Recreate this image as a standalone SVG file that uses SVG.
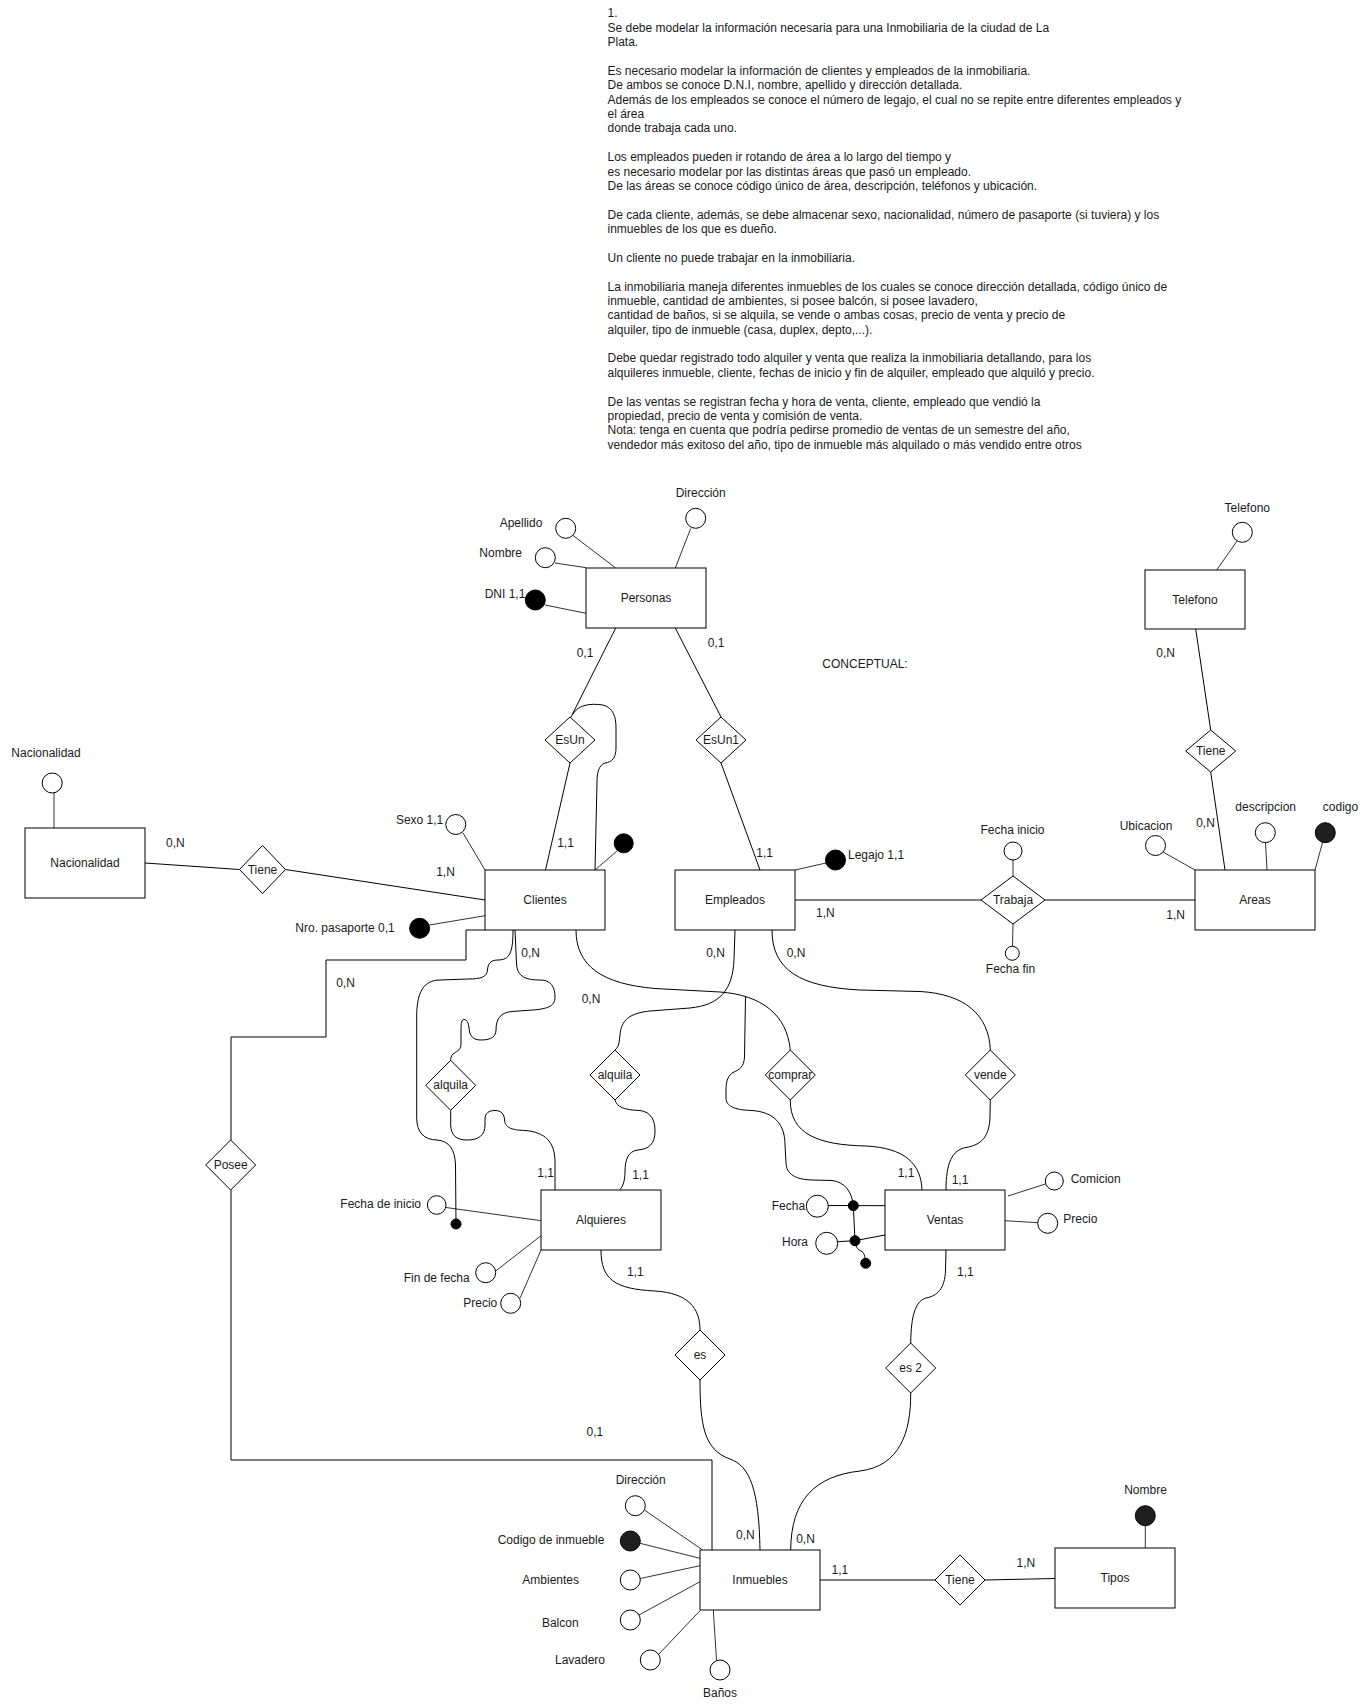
<svg xmlns="http://www.w3.org/2000/svg" width="1370" height="1708" viewBox="0 0 1370 1708">
<style>
text{font-family:"Liberation Sans",Arial,Helvetica,sans-serif;font-size:12px;fill:#1a1a1a}
.m{text-anchor:middle}
.e{fill:#fff;stroke:#000;stroke-width:1}
.r{fill:#fff;stroke:#000;stroke-width:1}
.a{fill:#fff;stroke:#000;stroke-width:1}
.k{fill:#000;stroke:#000;stroke-width:1}
.kd{fill:#1f1f1f;stroke:#000;stroke-width:1}
.c{fill:none;stroke:#000;stroke-width:1}
.l{fill:none;stroke:#333;stroke-width:1}
</style>
<rect width="1370" height="1708" fill="#fff"/>
<g id="descripcion-texto">
<text x="607.5" y="17.3">1.</text>
<text x="607.5" y="31.7">Se debe modelar la información necesaria para una Inmobiliaria de la ciudad de La</text>
<text x="607.5" y="46.1">Plata.</text>
<text x="607.5" y="74.8">Es necesario modelar la información de clientes y empleados de la inmobiliaria.</text>
<text x="607.5" y="89.2">De ambos se conoce D.N.I, nombre, apellido y dirección detallada.</text>
<text x="607.5" y="103.6">Además de los empleados se conoce el número de legajo, el cual no se repite entre diferentes empleados y</text>
<text x="607.5" y="118">el área</text>
<text x="607.5" y="132.3">donde trabaja cada uno.</text>
<text x="607.5" y="161.1">Los empleados pueden ir rotando de área a lo largo del tiempo y</text>
<text x="607.5" y="175.5">es necesario modelar por las distintas áreas que pasó un empleado.</text>
<text x="607.5" y="189.9">De las áreas se conoce código único de área, descripción, teléfonos y ubicación.</text>
<text x="607.5" y="218.6">De cada cliente, además, se debe almacenar sexo, nacionalidad, número de pasaporte (si tuviera) y los</text>
<text x="607.5" y="233">inmuebles de los que es dueño.</text>
<text x="607.5" y="261.8">Un cliente no puede trabajar en la inmobiliaria.</text>
<text x="607.5" y="290.5">La inmobiliaria maneja diferentes inmuebles de los cuales se conoce dirección detallada, código único de</text>
<text x="607.5" y="304.9">inmueble, cantidad de ambientes, si posee balcón, si posee lavadero,</text>
<text x="607.5" y="319.3">cantidad de baños, si se alquila, se vende o ambas cosas, precio de venta y precio de</text>
<text x="607.5" y="333.7">alquiler, tipo de inmueble (casa, duplex, depto,...).</text>
<text x="607.5" y="362.4">Debe quedar registrado todo alquiler y venta que realiza la inmobiliaria detallando, para los</text>
<text x="607.5" y="376.8">alquileres inmueble, cliente, fechas de inicio y fin de alquiler, empleado que alquiló y precio.</text>
<text x="607.5" y="405.6">De las ventas se registran fecha y hora de venta, cliente, empleado que vendió la</text>
<text x="607.5" y="419.9">propiedad, precio de venta y comisión de venta.</text>
<text x="607.5" y="434.3">Nota: tenga en cuenta que podría pedirse promedio de ventas de un semestre del año,</text>
<text x="607.5" y="448.7">vendedor más exitoso del año, tipo de inmueble más alquilado o más vendido entre otros</text>
<text x="865" y="668" class="m">CONCEPTUAL:</text>
</g>
<g id="connectors">
<!-- attribute lines -->
<path class="l" d="M690.7 528.5 L675.3 568"/>
<path class="l" d="M573 535.5 L615.7 568"/>
<path class="l" d="M555 563 L586 567.7"/>
<path class="l" d="M545 605 L586 613.3"/>
<path class="l" d="M54 793 L54 828"/>
<path class="l" d="M463 833 L485 870"/>
<path class="l" d="M617 851 L595 870"/>
<path class="l" d="M429.5 925 L485 915.7"/>
<path class="l" d="M826 863 L795 870"/>
<path class="l" d="M1013 860 L1013 876"/>
<path class="l" d="M1013 924 L1012.5 946"/>
<path class="l" d="M1163 852 L1195 870"/>
<path class="l" d="M1265.5 842.7 L1267 870"/>
<path class="l" d="M1322.5 842.5 L1315 870"/>
<path class="l" d="M1237 541 L1216.7 570"/>
<path class="l" d="M446 1207.5 L541 1220.7"/>
<path class="l" d="M495.7 1271 L541 1235.7"/>
<path class="l" d="M520 1298.3 L541 1250"/>
<path class="l" d="M1045.5 1184 L1008 1196"/>
<path class="l" d="M1037.7 1222.7 L1005 1220.7"/>
<path class="l" d="M644.3 1510 L701.7 1549.3"/>
<path class="l" d="M640 1543.3 L700 1558.3"/>
<path class="l" d="M640.3 1578.5 L700 1565.7"/>
<path class="l" d="M639 1615 L700 1581.7"/>
<path class="l" d="M658.5 1654.5 L700 1610.7"/>
<path class="l" d="M716.5 1660 L713.3 1610"/>
<path class="l" d="M1145.3 1525.7 L1145.3 1548"/>
<!-- relationship lines -->
<path class="c" d="M615.7 628 L571 717"/>
<path class="c" d="M570 763 L545.5 870"/>
<path class="c" d="M573 714 C578 705 590 703 603 705 C613 708 616 716 616 728 L616 748 C616 758 612 762 605 763 C599 765 597 772 597 782 L595 870"/>
<path class="c" d="M675.3 628 L721 717"/>
<path class="c" d="M721 763 L760 870"/>
<path class="c" d="M145 863 L239.5 869.5"/>
<path class="c" d="M285.5 869.5 L485 900"/>
<path class="c" d="M795 900 L981 900"/>
<path class="c" d="M1045 900 L1195 900"/>
<path class="c" d="M1195.7 629 L1210.7 730"/>
<path class="c" d="M1210.7 772 L1225 870"/>
<path class="c" d="M485 930 L466 930 L466 960 L326 960 L326 1037 L231 1037 L231 1140"/>
<path class="c" d="M231 1190 L231 1460 L712 1460 L712 1550"/>
<path class="c" d="M513 930 C513 952 510 960 498 960 C490 960 488 964 487.5 970 C487 977 481 979 468 979 L440 980 C424 980 417 992 416.7 1015 L416.7 1118 C416.7 1132 424 1140 437 1140 C449 1141 455 1149 455.5 1165 L456 1224"/>
<path class="c" d="M515 930 L516.5 963 C517 975 523 980 540 980 C551 980 555 987 555 997 C555 1007 547 1009.5 525 1010.5 L512 1011.5 C501 1012.5 496 1018 496 1030 C496 1036 492 1040 481 1040 C473 1040 469.5 1036 469 1028 C468.5 1022 466.5 1019.5 464 1019.5 C461.5 1019.5 461 1023 461 1030 L461 1044 C461 1051 455 1052 453 1054 C451 1056 450.7 1058 450.7 1060.3"/>
<path class="c" d="M450.7 1110.3 L450.7 1125 C451 1135 456 1140 467 1140 C479 1140 485 1135 485 1125 L485 1119 C485 1113 489 1110.5 495 1110.5 C501 1110.5 504.5 1114 504.5 1120 C505 1127 510 1130 525 1130.5 C545 1132 555 1142 555 1162 L555 1190"/>
<path class="c" d="M735 930 L734 960 C732.5 990 720 1005 690 1008 L650 1011 C630 1013 621 1020 620 1035 L619 1043 C618.5 1046 617 1048 615 1050"/>
<path class="c" d="M615 1100 C617 1107 624 1110 640 1110.5 C651 1112 655 1120 655 1131 C655 1144 649 1149 638 1150 C628 1151 625 1160 625 1172 C625 1182 622 1188 619.5 1190"/>
<path class="c" d="M576 930 C576 966 602 984 655 988.5 L720 992 C762 995 787 1015 790.3 1050"/>
<path class="c" d="M772 930 C772 970 800 987 860 990 L920 991.5 C965 994 989 1015 990.3 1050"/>
<path class="c" d="M745.5 997 L744.5 1057 C744 1067 739 1070 734 1072 C728 1075 726 1081 726 1090 L726 1098 C726 1106 734 1110 752 1110.5 C774 1112 785 1124 785 1145 L786 1163 C786.5 1174 795 1179.5 812 1180 L832 1180.5 C845 1182 852 1192 853.3 1205.7"/>
<path class="c" d="M790.3 1100 C790 1134 818 1145 866 1146 C904 1148 921 1163 922 1190"/>
<path class="c" d="M990.3 1100 L990 1115 C990 1137 981 1145 966 1147.5 C952 1150 946 1163 946 1190"/>
<path class="c" d="M828 1205.5 L885 1205.7"/>
<path class="c" d="M853.3 1205.7 L855 1240.7"/>
<path class="c" d="M837.7 1241.7 L855 1240.7 L885 1235"/>
<path class="c" d="M855 1240.7 C856 1248 858 1250 861 1251 C864 1252 865 1256 865.7 1263"/>
<path class="c" d="M601 1250 C601 1279 614 1289 655 1291 C688 1293 700 1308 700 1330"/>
<path class="c" d="M700 1380 C700 1425 704 1450 730 1459 C750 1466 759 1490 760 1550"/>
<path class="c" d="M946 1250 L945.5 1270 C945 1289 937 1296 926 1298 C916 1301 911 1314 910.7 1343"/>
<path class="c" d="M910.7 1393 C911 1432 900 1466 860 1471 C815 1476 791 1500 790.7 1550"/>
<path class="c" d="M820 1580 L935 1580"/>
<path class="c" d="M985 1580 L1055 1578.5"/>
</g>
<g id="cardinalidades">
<text x="585" y="657" class="m">0,1</text>
<text x="716" y="647" class="m">0,1</text>
<text x="565.5" y="846.5" class="m">1,1</text>
<text x="445.5" y="876" class="m">1,N</text>
<text x="175.4" y="846.5" class="m">0,N</text>
<text x="764.7" y="856.5" class="m">1,1</text>
<text x="825.4" y="917" class="m">1,N</text>
<text x="1175.7" y="919" class="m">1,N</text>
<text x="1165.7" y="656.7" class="m">0,N</text>
<text x="1205.5" y="826.5" class="m">0,N</text>
<text x="530.7" y="956.5" class="m">0,N</text>
<text x="591" y="1003.3" class="m">0,N</text>
<text x="715.5" y="956.5" class="m">0,N</text>
<text x="796" y="956.5" class="m">0,N</text>
<text x="345.5" y="986.5" class="m">0,N</text>
<text x="545.7" y="1176.8" class="m">1,1</text>
<text x="640.5" y="1178.5" class="m">1,1</text>
<text x="906" y="1177" class="m">1,1</text>
<text x="960" y="1184" class="m">1,1</text>
<text x="635.3" y="1276.2" class="m">1,1</text>
<text x="965.3" y="1276.4" class="m">1,1</text>
<text x="594.8" y="1436.4" class="m">0,1</text>
<text x="745.4" y="1538.7" class="m">0,N</text>
<text x="805.5" y="1543" class="m">0,N</text>
<text x="839.8" y="1573.6" class="m">1,1</text>
<text x="1025.8" y="1566.7" class="m">1,N</text>
</g>
<g id="personas"><rect class="e" x="586" y="568" width="120" height="60"/><text x="646" y="602" class="m">Personas</text></g>
<g id="nacionalidad"><rect class="e" x="25" y="828" width="120" height="70"/><text x="85" y="867" class="m">Nacionalidad</text></g>
<g id="clientes"><rect class="e" x="485" y="870" width="120" height="60"/><text x="545" y="904" class="m">Clientes</text></g>
<g id="empleados"><rect class="e" x="675" y="870" width="120" height="60"/><text x="735" y="904" class="m">Empleados</text></g>
<g id="areas"><rect class="e" x="1195" y="870" width="120" height="60"/><text x="1255" y="904" class="m">Areas</text></g>
<g id="telefono"><rect class="e" x="1145" y="570" width="100" height="59"/><text x="1195" y="603.5" class="m">Telefono</text></g>
<g id="alquieres"><rect class="e" x="541" y="1190" width="120" height="60"/><text x="601" y="1224" class="m">Alquieres</text></g>
<g id="ventas"><rect class="e" x="885" y="1190" width="120" height="60"/><text x="945" y="1224" class="m">Ventas</text></g>
<g id="inmuebles"><rect class="e" x="700" y="1550" width="120" height="60"/><text x="760" y="1584" class="m">Inmuebles</text></g>
<g id="tipos"><rect class="e" x="1055" y="1548" width="120" height="60"/><text x="1115" y="1582" class="m">Tipos</text></g>
<g id="rel-esun"><polygon class="r" points="570,717 595,740 570,763 545,740"/><text x="570" y="744" class="m">EsUn</text></g>
<g id="rel-esun1"><polygon class="r" points="721,717 746,740 721,763 696,740"/><text x="721" y="744" class="m">EsUn1</text></g>
<g id="rel-tiene-nac"><polygon class="r" points="262.5,845.5 285.5,869.5 262.5,893.5 239.5,869.5"/><text x="262.5" y="873.5" class="m">Tiene</text></g>
<g id="rel-trabaja"><polygon class="r" points="1013,876 1045,900 1013,924 981,900"/><text x="1013" y="904" class="m">Trabaja</text></g>
<g id="rel-tiene-tel"><polygon class="r" points="1210.7,730 1235.7,751 1210.7,772 1185.7,751"/><text x="1210.7" y="755" class="m">Tiene</text></g>
<g id="rel-alquila-cli"><polygon class="r" points="450.7,1060.3 475.7,1085.3 450.7,1110.3 425.7,1085.3"/><text x="450.7" y="1089.3" class="m">alquila</text></g>
<g id="rel-alquila-emp"><polygon class="r" points="615,1050 640,1075 615,1100 590,1075"/><text x="615" y="1079" class="m">alquila</text></g>
<g id="rel-comprar"><polygon class="r" points="790.3,1050 815.3,1075 790.3,1100 765.3,1075"/><text x="790.3" y="1079" class="m">comprar</text></g>
<g id="rel-vende"><polygon class="r" points="990.3,1050 1015.3,1075 990.3,1100 965.3,1075"/><text x="990.3" y="1079" class="m">vende</text></g>
<g id="rel-posee"><polygon class="r" points="230.7,1140 255.7,1165 230.7,1190 205.7,1165"/><text x="230.7" y="1169" class="m">Posee</text></g>
<g id="rel-es"><polygon class="r" points="700,1330 725,1355 700,1380 675,1355"/><text x="700" y="1359" class="m">es</text></g>
<g id="rel-es2"><polygon class="r" points="910.7,1343 935.7,1368 910.7,1393 885.7,1368"/><text x="910.7" y="1372" class="m">es 2</text></g>
<g id="rel-tiene-tipo"><polygon class="r" points="960,1555 985,1580 960,1605 935,1580"/><text x="960" y="1584" class="m">Tiene</text></g>
<g id="attr-personas">
<circle class="a" cx="695.7" cy="518.3" r="10"/><text x="700.7" y="497.3" class="m">Dirección</text>
<circle class="a" cx="565.7" cy="528.3" r="10"/><text x="521" y="527.3" class="m">Apellido</text>
<circle class="a" cx="545.3" cy="557.7" r="10"/><text x="500.7" y="557.3" class="m">Nombre</text>
<circle class="k" cx="535.3" cy="600" r="10"/><text x="505" y="598" class="m">DNI 1,1</text>
</g>
<g id="attr-nacionalidad"><circle class="a" cx="52.2" cy="783" r="10"/><text x="46" y="756.5" class="m">Nacionalidad</text></g>
<g id="attr-clientes">
<circle class="a" cx="455.8" cy="824.5" r="10"/><text x="419.6" y="824" class="m">Sexo 1,1</text>
<circle class="k" cx="623.7" cy="843.3" r="9.5"/>
<circle class="k" cx="419.6" cy="928.3" r="10"/><text x="345" y="932.3" class="m">Nro. pasaporte 0,1</text>
</g>
<g id="attr-empleados"><circle class="k" cx="835.5" cy="860" r="10"/><text x="848" y="858.5">Legajo 1,1</text></g>
<g id="attr-trabaja">
<circle class="a" cx="1013" cy="851" r="9"/><text x="1012.5" y="834" class="m">Fecha inicio</text>
<circle class="a" cx="1012.3" cy="953.3" r="7"/><text x="1010.5" y="973.3" class="m">Fecha fin</text>
</g>
<g id="attr-areas">
<circle class="a" cx="1155.5" cy="845.5" r="10"/><text x="1146" y="830" class="m">Ubicacion</text>
<circle class="a" cx="1265.3" cy="832.7" r="10"/><text x="1265.7" y="810.7" class="m">descripcion</text>
<circle class="kd" cx="1325.3" cy="832.7" r="10"/><text x="1340.5" y="810.7" class="m">codigo</text>
</g>
<g id="attr-telefono"><circle class="a" cx="1242.3" cy="532.3" r="10"/><text x="1247.3" y="511.7" class="m">Telefono</text></g>
<g id="attr-alquieres">
<circle class="a" cx="436.7" cy="1205" r="9.3"/><text x="380.7" y="1208.3" class="m">Fecha de inicio</text>
<circle class="k" cx="456" cy="1224" r="5"/>
<circle class="a" cx="485.7" cy="1272.7" r="10"/><text x="436.7" y="1281.6" class="m">Fin de fecha</text>
<circle class="a" cx="510.7" cy="1303.3" r="10"/><text x="480.3" y="1306.5" class="m">Precio</text>
</g>
<g id="attr-ventas">
<circle class="a" cx="817.3" cy="1206.2" r="11"/><text x="788.4" y="1210" class="m">Fecha</text>
<circle class="a" cx="826.7" cy="1243.3" r="11"/><text x="795" y="1246" class="m">Hora</text>
<circle class="k" cx="853.3" cy="1205.7" r="5"/>
<circle class="k" cx="855" cy="1240.7" r="5"/>
<circle class="k" cx="865.7" cy="1263.3" r="5"/>
<circle class="a" cx="1054.3" cy="1181" r="9"/><text x="1070.7" y="1183">Comicion</text>
<circle class="a" cx="1047.7" cy="1223.3" r="10"/><text x="1063.3" y="1223">Precio</text>
</g>
<g id="attr-inmuebles">
<circle class="a" cx="635.3" cy="1505.7" r="10"/><text x="640.7" y="1484" class="m">Dirección</text>
<circle class="kd" cx="630.3" cy="1541" r="10"/><text x="551" y="1544" class="m">Codigo de inmueble</text>
<circle class="a" cx="630.3" cy="1580" r="10"/><text x="550.7" y="1584" class="m">Ambientes</text>
<circle class="a" cx="630.3" cy="1620" r="10"/><text x="560.3" y="1626.5" class="m">Balcon</text>
<circle class="a" cx="650.3" cy="1660" r="10"/><text x="580" y="1664" class="m">Lavadero</text>
<circle class="a" cx="720" cy="1670" r="10"/><text x="720" y="1696.5" class="m">Baños</text>
</g>
<g id="attr-tipos"><circle class="kd" cx="1145.3" cy="1515.7" r="10"/><text x="1145.5" y="1494" class="m">Nombre</text></g>
</svg>
